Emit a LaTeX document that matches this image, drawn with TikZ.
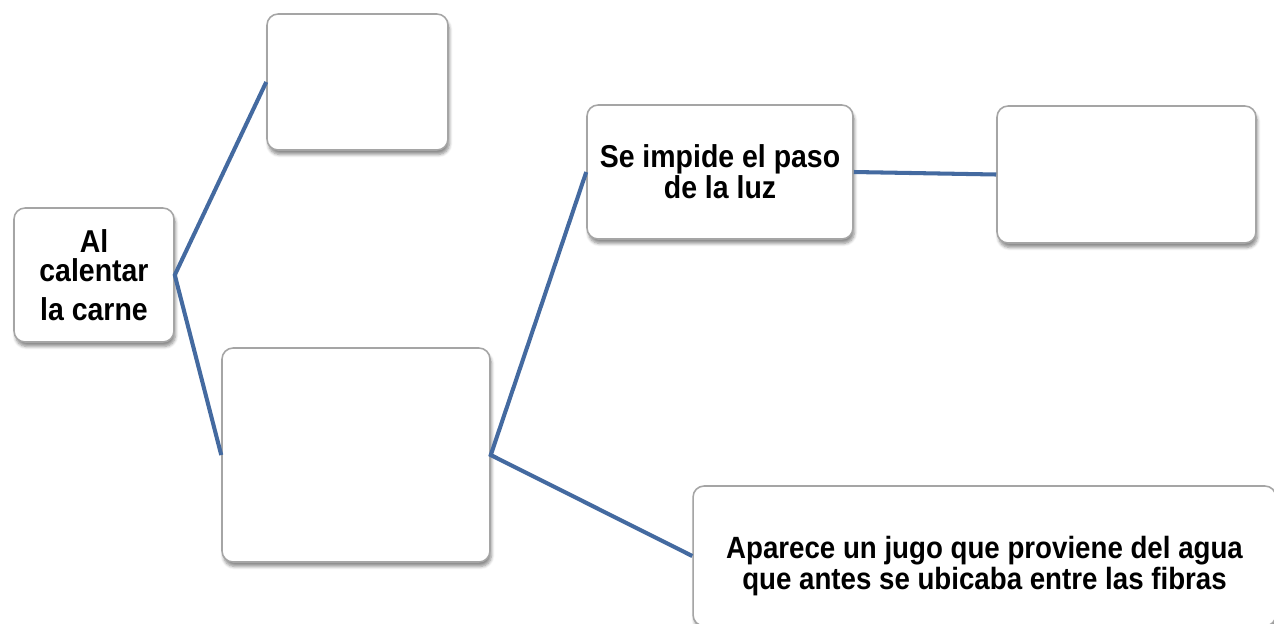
\documentclass[tikz,border=0pt]{standalone}
\usepackage{fontspec}
\newfontfamily\boxfont{Liberation Sans}[FakeStretch=0.9]
\usetikzlibrary{shadows.blur}
\definecolor{linkblue}{RGB}{68,106,160}
\definecolor{boxgray}{RGB}{165,165,165}
\tikzset{
  box/.style={draw=boxgray, line width=0.9pt, fill=white, rounded corners=0.22cm,
    inner sep=0pt, align=center,
    blur shadow={shadow xshift=0.03cm, shadow yshift=-0.09cm, shadow blur steps=6, shadow opacity=45},
    font=\boxfont\bfseries\fontsize{18}{17}\selectfont},
  link/.style={draw=linkblue, line width=2.3pt}
}
\begin{document}
\begin{tikzpicture}[x=0.02cm, y=-0.02cm]
\useasboundingbox (0,0) rectangle (1274,623);
\clip (0,0) rectangle (1274,623);
% boxes
\node[box, minimum width=3.2cm, minimum height=2.68cm] (calentar) at (94,275) {Al\\calentar\\[5pt]la carne};
\node[box, minimum width=3.62cm, minimum height=2.72cm] (top) at (357.5,82) {};
\node[box, minimum width=5.36cm, minimum height=4.28cm] (middle) at (356,455) {};
\node[box, minimum width=5.32cm, minimum height=2.68cm, font=\boxfont\bfseries\fontsize{18}{16}\selectfont] (luz) at (720,172) {Se impide el paso\\de la luz};
\node[box, minimum width=5.18cm, minimum height=2.74cm] (right) at (1126.5,174.5) {};
\node[box, minimum width=11.66cm, minimum height=2.8cm, font=\boxfont\bfseries\fontsize{17.5}{18}\selectfont] (jugo) at (984.5,556) {\rule{0pt}{24pt}Aparece un jugo que proviene del agua\\que antes se ubicaba entre las fibras};
% links
\draw[link] (top.west) -- (calentar.east) -- (middle.west);
\draw[link] (luz.west) -- (middle.east) -- (jugo.west);
\draw[link] (luz.east) -- (right.west);
\end{tikzpicture}
\end{document}
